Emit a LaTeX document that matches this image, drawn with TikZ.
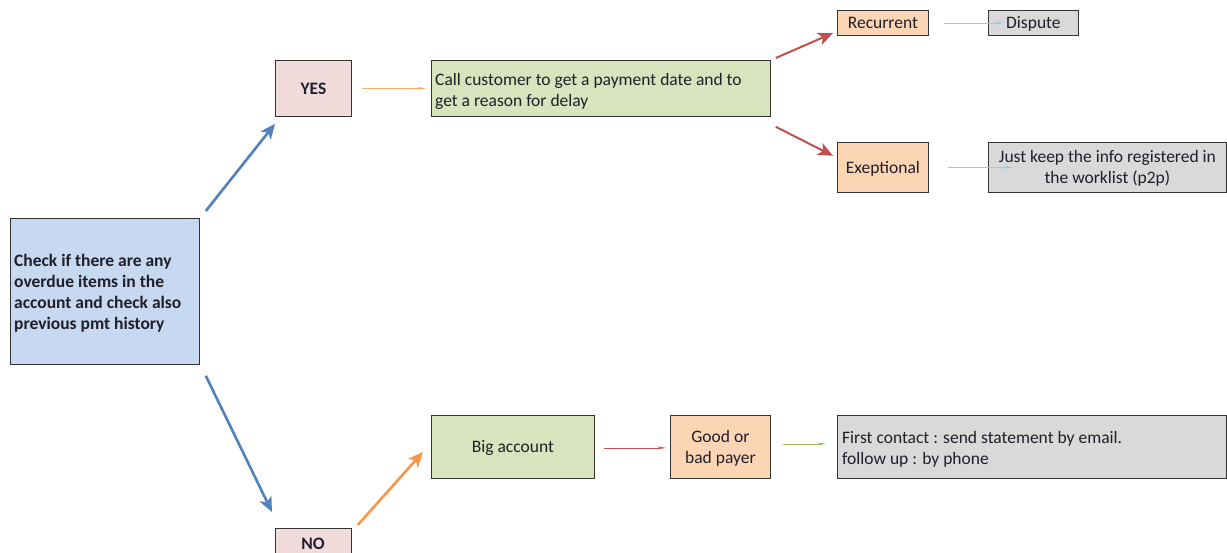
\documentclass[tikz,border=0pt]{standalone}
\usepackage{fontspec}
\setmainfont{Carlito}
\usetikzlibrary{arrows.meta}
\definecolor{cblue}{HTML}{C6D9F1}
\definecolor{cpink}{HTML}{F2DCDB}
\definecolor{cgreen}{HTML}{D7E4BD}
\definecolor{corange}{HTML}{FCD5B5}
\definecolor{cgray}{HTML}{D9D9D9}
\definecolor{ablue}{HTML}{4F81BD}
\definecolor{aorange}{HTML}{F79646}
\definecolor{ared}{HTML}{C0504D}
\definecolor{alblue}{HTML}{93CDDD}
\definecolor{agreen}{HTML}{9BBB59}
\definecolor{txt}{HTML}{1F1F2A}
\tikzset{
  box/.style={draw=black!80, line width=0.8pt, anchor=north west, inner sep=0pt, text=txt,
    text depth=0pt, font=\fontsize{17.5}{21}\selectfont},
  bigarrow/.style={line width=2.6pt, -{Stealth[length=15pt,width=13pt,inset=4pt]}},
  smallarrow/.style={line width=0.8pt, -{Stealth[length=9pt,width=3pt]}},
}
\begin{document}
\begin{tikzpicture}[x=1pt,y=-1pt]
\useasboundingbox (0,0) rectangle (1227,552);
\clip (0,0) rectangle (1227,552);
% nodes
\node[box, fill=cblue, minimum width=189pt, minimum height=146pt] (chk) at (10,218) {};
\node[txt, anchor=west, align=left, inner sep=0pt, font=\fontsize{17.5}{21}\selectfont\bfseries] (chktxt) at (14,293)
  {Check if there are any\\overdue items in the\\account and check also\\previous pmt history};
\node[box, fill=cpink, minimum width=76pt, minimum height=56pt, font=\fontsize{17.5}{21}\selectfont\bfseries] (yes) at (275,60) {YES};
\node[box, fill=cpink, minimum width=76pt, minimum height=56pt] (no) at (275,528) {};
\node[txt, font=\fontsize{17.5}{21}\selectfont\bfseries] (notxt) at (313,544) {NO};
\node[box, fill=cgreen, minimum width=339pt, minimum height=56pt] (call) at (431,60) {};
\node[txt, anchor=west, align=left, inner sep=0pt, font=\fontsize{17.5}{21}\selectfont] (calltxt) at (435,91)
  {Call customer to get a payment date and to\\get a reason for delay};
\node[box, fill=corange, minimum width=91pt, minimum height=25pt] (rec) at (837,10) {Recurrent};
\node[box, fill=cgray, minimum width=90pt, minimum height=25pt] (dis) at (988,10) {Dispute};
\node[box, fill=corange, minimum width=91pt, minimum height=50pt] (exc) at (837,142) {Exeptional};
\node[box, fill=cgray, minimum width=238pt, minimum height=50pt, align=center] (keep) at (988,142)
  {Just keep the info registered in\\the worklist (p2p)};
\node[box, fill=cgreen, minimum width=163pt, minimum height=63pt] (big) at (431,415) {Big account};
\node[box, fill=corange, minimum width=100pt, minimum height=63pt, align=center] (gob) at (670,415) {Good or\\bad payer};
\node[box, fill=cgray, minimum width=389pt, minimum height=63pt] (first) at (837,415) {};
\node[txt, anchor=west, align=left, inner sep=0pt, font=\fontsize{17.5}{21}\selectfont] (firsttxt) at (842,449)
  {First contact : send statement by email.\\follow up : by phone};
% connectors
\draw[bigarrow, ablue] ([shift={(6,-7)}]chk.north east) -- ([shift={(0,7)}]yes.south west);
\draw[bigarrow, ablue] ([shift={(6,11)}]chk.south east) -- ([shift={(-3,-16)}]no.north west);
\draw[bigarrow, aorange] ([shift={(6,-3)}]no.north east) -- ([shift={(-8,37)}]big.north west);
\draw[smallarrow, aorange!80] ([xshift=10]yes.east) -- ([xshift=-5]call.west);
\draw[bigarrow, ared, line width=2pt] ([shift={(5,-2)}]call.north east) -- ([shift={(-4,23)}]rec.north west);
\draw[bigarrow, ared, line width=2pt] ([shift={(5,10)}]call.south east) -- ([shift={(-4,-37)}]exc.south west);
\draw[smallarrow, alblue] ([xshift=15]rec.east) -- ([xshift=16]dis.west);
\draw[smallarrow, alblue] ([xshift=19]exc.east) -- ([xshift=25]keep.west);
\draw[smallarrow, ared] ([xshift=9,yshift=-1]big.east) -- ([xshift=-4,yshift=-1]gob.west);
\draw[smallarrow, agreen] ([xshift=12,yshift=3]gob.east) -- ([xshift=-11,yshift=3]first.west);
\end{tikzpicture}
\end{document}
